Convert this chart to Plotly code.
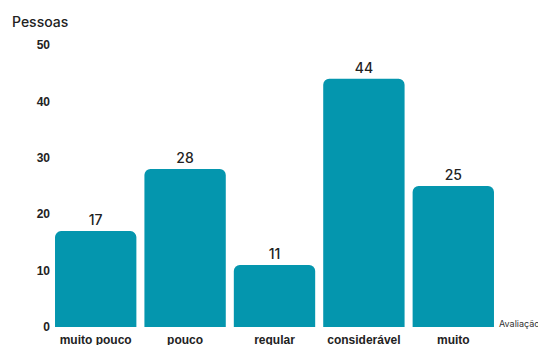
import plotly.graph_objects as go

categorias = ["muito pouco", "pouco", "regular", "considerável", "muito"]
pessoas = [17, 28, 11, 44, 25]
y_ticks = [0, 10, 20, 30, 40, 50]

fig = go.Figure(go.Bar(
    x=categorias, y=pessoas,
    marker=dict(color="#0496ae", cornerradius=6, line=dict(width=0)),
    text=pessoas, textposition="outside", cliponaxis=False,
    textfont=dict(family="Inter, sans-serif", size=14, color="#222", weight=500),
))

fig.update_layout(
    width=538, height=345,
    margin=dict(l=51, r=40, t=45, b=18, autoexpand=False),
    plot_bgcolor="white", paper_bgcolor="white",
    bargap=0.09, showlegend=False,
    xaxis=dict(showgrid=False, showline=False, zeroline=False, ticks="", automargin=False,
               ticklabelstandoff=4,
               tickfont=dict(family="Liberation Sans, Arial", size=12, color="#222", weight="bold")),
    yaxis=dict(range=[0, 50], tickvals=y_ticks, showgrid=False, showline=False,
               zeroline=False, ticks="", automargin=False,
               tickfont=dict(family="Liberation Sans, Arial", size=12, color="#222", weight="bold")),
)
fig.add_annotation(text="Pessoas", xref="paper", yref="paper",
                   x=(10 - 51) / 447, y=1 + 24 / 282, xanchor="left", yanchor="middle",
                   showarrow=False, font=dict(family="Inter, sans-serif", size=14, color="#222", weight=500))
fig.add_annotation(text="Avaliação", xref="paper", yref="paper",
                   x=1 - 1.5 / 447, y=4 / 282, xanchor="left", yanchor="middle",
                   showarrow=False, font=dict(family="Inter, sans-serif", size=9, color="#333"))

fig.write_html("out.html")
